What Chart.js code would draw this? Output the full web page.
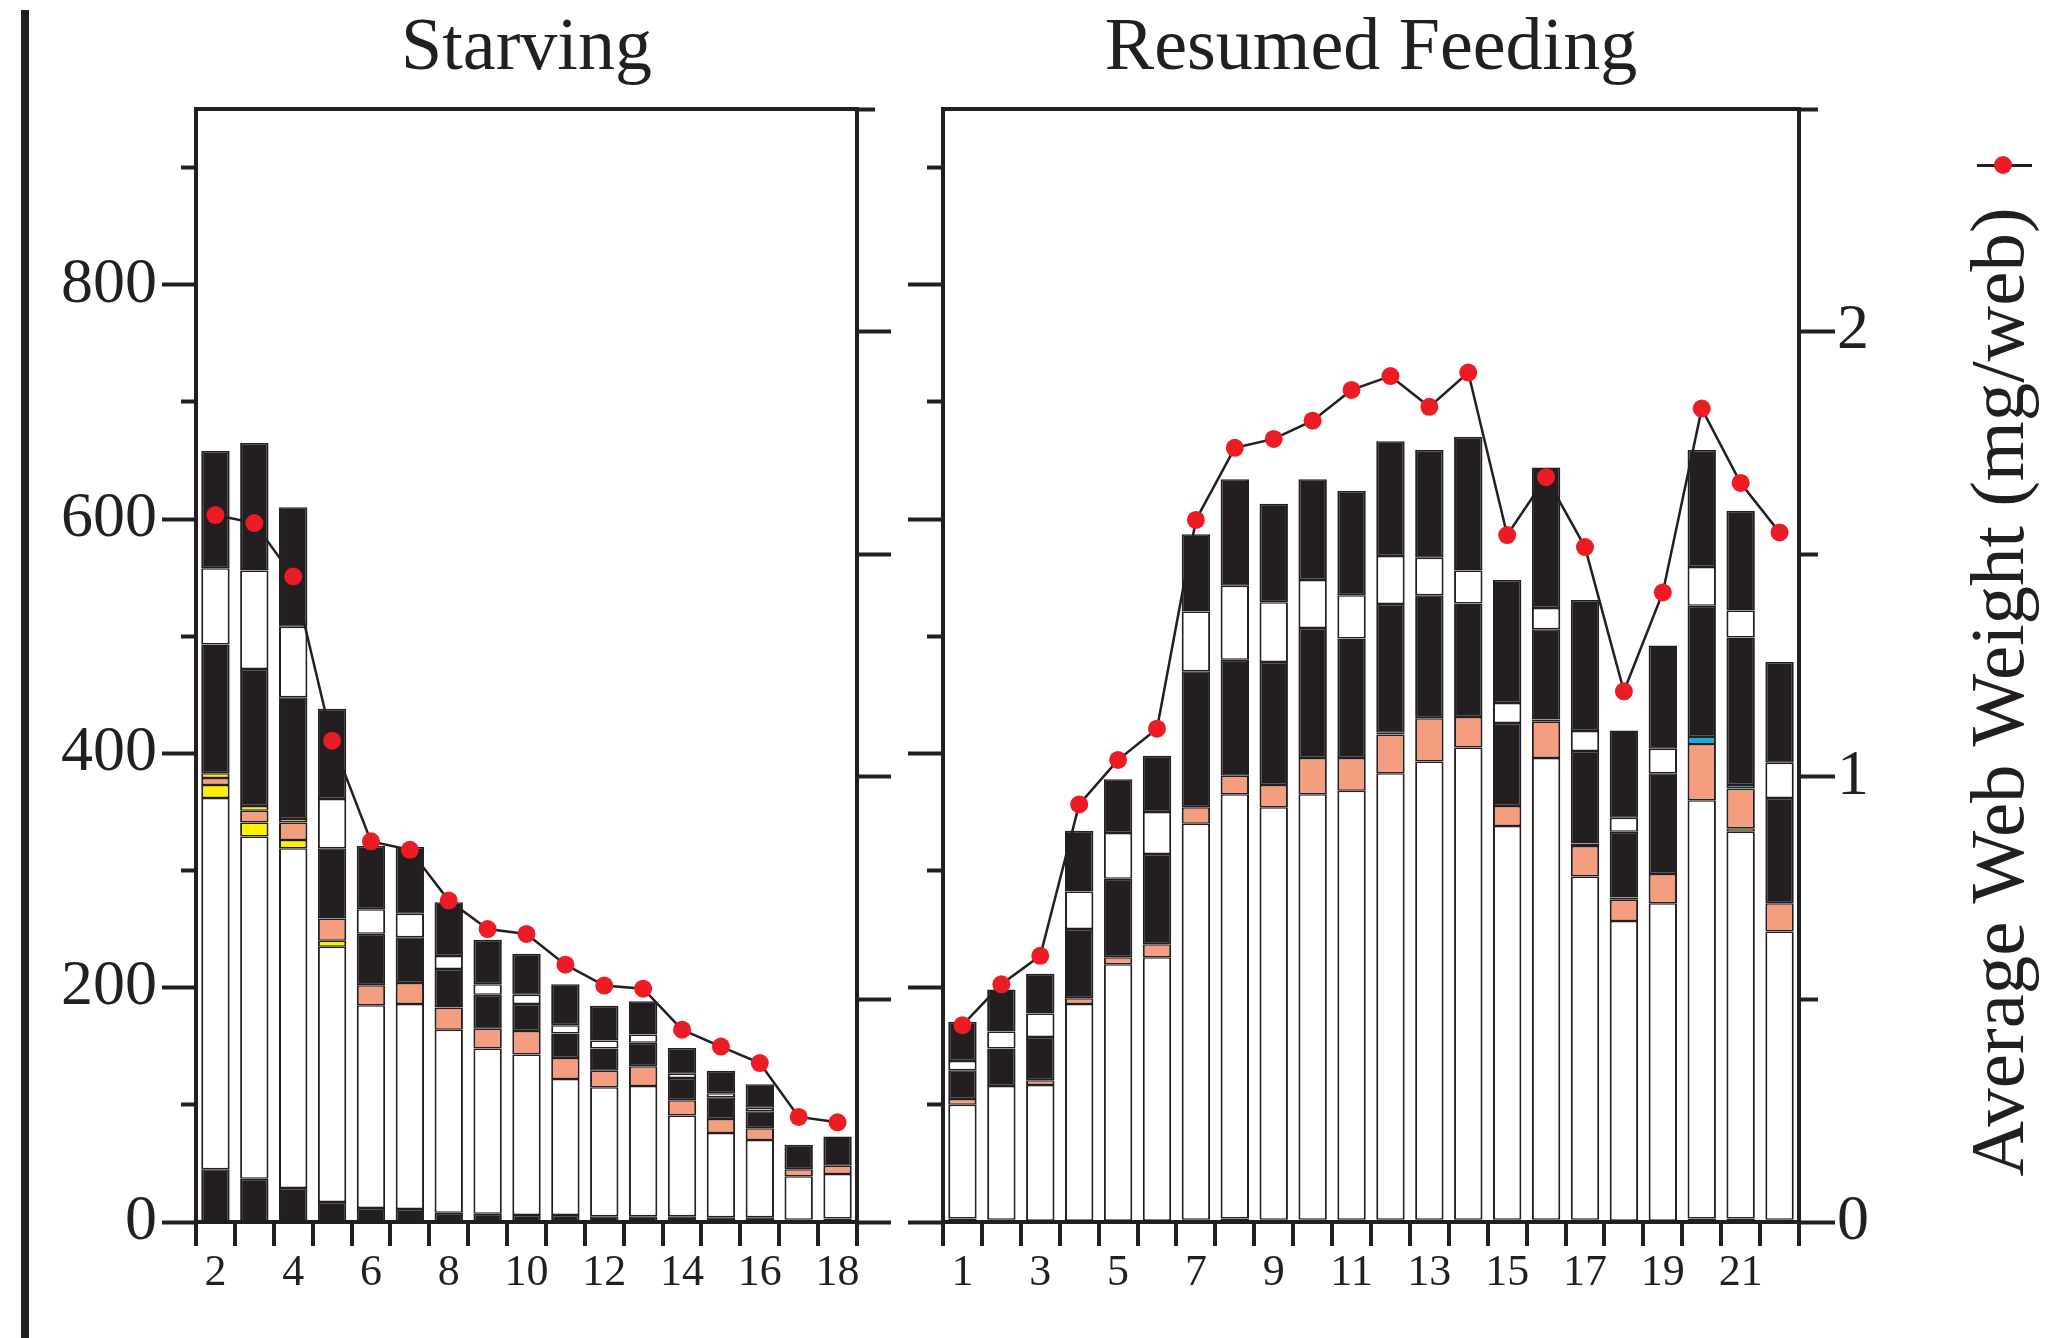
<!DOCTYPE html>
<html>
<head>
<meta charset="utf-8">
<title>Web weight and composition: starving vs resumed feeding</title>
<script src="https://cdn.jsdelivr.net/npm/chart.js@4.4.1/dist/chart.umd.min.js"></script>
<style>
  html, body { margin: 0; padding: 0; background: #fff; }
  body { width: 2049px; height: 1338px; position: relative; overflow: hidden; }
  canvas { position: absolute; top: 0; }
  #starving { left: 0; }
  #resumed { left: 880px; }
  .rule { position: absolute; left: 21px; top: 10px; width: 8px; height: 1328px; background: #231f20; }
  .key-line { position: absolute; left: 1977px; top: 164px; width: 55px; height: 2.5px; background: #231f20; }
  .key-dot { position: absolute; left: 1994px; top: 156px; width: 18px; height: 18px; border-radius: 50%; background: #ed1c24; }
  .key-text {
    position: absolute; left: 1997px; top: 692px;
    transform: translate(-50%, -50%) rotate(-90deg);
    font-family: 'Liberation Serif', 'Times New Roman', serif;
    font-size: 77px; line-height: 1;
    color: #231f20; white-space: nowrap;
  }
</style>
</head>
<body>
<div class="rule"></div>
<canvas id="starving" width="900" height="1338"></canvas>
<canvas id="resumed" width="1169" height="1338"></canvas>
<div class="key-line"></div>
<div class="key-dot"></div>
<div class="key-text">Average Web Weight (mg/web)</div>

<script>
// ---- Starving, days 2-18 ----
const starvingDays = ['2','3','4','5','6','7','8','9','10','11','12','13','14','15','16','17','18'];
const starvingBlackBase   = [45, 37, 29, 17, 12, 11, 8, 7, 6, 6, 5, 5, 5, 4, 4, 2, 3];
const starvingWhiteLower  = [317, 292, 290, 218, 173, 175, 156, 141, 137, 116, 110, 111, 86, 72, 66, 37, 38];
const starvingYellowLower = [11, 12, 7, 5, null, null, null, null, null, null, null, null, null, null, null, null, null];
const starvingSalmon      = [6, 10, 15, 19, 17, 18, 19, 17, 20, 18, 14, 17, 13, 12, 10, 6, 7];
const starvingYellowUpper = [4, 4, 3, null, null, null, null, null, null, null, null, null, null, null, null, null, null];
const starvingBlue        = [null, null, null, null, null, null, null, null, null, null, null, null, null, null, null, null, null];
const starvingBlackMid    = [110, 117, 104, 60, 44, 39, 33, 29, 23, 21, 19, 20, 19, 18.5, 14.5, 21, 25];
const starvingWhiteUpper  = [65, 84, 60, 42, 21, 20, 11, 9, 8, 7, 7, 7, 3.5, 3.5, 3, null, null];
const starvingBlackTop    = [100, 109, 102, 77, 54, 57, 46, 38, 35, 35, 29.5, 28.5, 22, 19, 20, null, null];
const starvingWebWeight   = [1.588, 1.570, 1.450, 1.081, 0.855, 0.836, 0.722, 0.658, 0.647, 0.578, 0.531, 0.524, 0.432, 0.394, 0.357, 0.236, 0.224];

// ---- Resumed feeding, days 1-22 ----
const resumedDays = ['1','2','3','4','5','6','7','8','9','10','11','12','13','14','15','16','17','18','19','20','21','22'];
const resumedBlackBase   = [3, 2, 1, 1, 1, 1, 2, 3, 2, 2, 2, 2, 2, 2, 2, 2, 2, 1, 1, 3, 3, 2];
const resumedWhiteLower  = [97, 114, 116, 185, 219, 225, 338, 362, 352, 363, 366, 381, 391, 403, 336, 394, 293, 256, 271, 357, 330, 246];
const resumedYellowLower = [null, null, null, null, null, null, null, null, null, null, null, null, null, null, null, null, null, null, null, null, 3, null];
const resumedSalmon      = [5, null, 4, 5, 6, 11, 14, 16, 19, 31, 28, 33, 37, 26, 17, 31, 26, 18, 25, 48, 34, 24];
const resumedYellowUpper = [null, null, null, null, null, null, null, null, null, null, null, null, null, null, null, null, null, null, null, null, null, null];
const resumedBlue        = [null, null, null, null, null, null, null, null, null, null, null, 1.5, null, null, null, 2, 2, 2, null, 6, 3, null];
const resumedBlackMid    = [24.5, 32, 37, 59, 67, 77, 116, 99, 105, 111, 102, 110, 105, 97, 71, 77, 79, 56, 86, 112, 126, 90];
const resumedWhiteUpper  = [8, 14.5, 20, 32, 39, 36, 51, 63, 51, 41, 37, 41, 32, 28, 17, 18, 17, 12, 21, 33, 23, 30];
const resumedBlackTop    = [33.5, 36, 34, 52, 46, 48, 66, 91, 84, 86, 89, 98, 92, 114, 105, 120, 112, 74.5, 88, 100, 85, 86];
const resumedWebWeight   = [0.442, 0.534, 0.598, 0.938, 1.038, 1.108, 1.577, 1.739, 1.759, 1.800, 1.869, 1.900, 1.831, 1.908, 1.543, 1.673, 1.516, 1.192, 1.414, 1.827, 1.660, 1.549];

// ---- shared styling ----
const INK = '#231f20';
const SERIF = "'Liberation Serif', 'Times New Roman', serif";
const layerColors = ['#231f20', '#ffffff', '#fff200', '#f59d7f', '#fff200', '#00aeef', '#231f20', '#ffffff', '#231f20'];

function stackedLayers(layers) {
  return layers.map((values, i) => ({
    type: 'bar',
    label: 'layer ' + (i + 1),
    data: values,
    backgroundColor: layerColors[i],
    borderColor: INK,
    borderWidth: { top: 1.5, bottom: 1.5, left: 2, right: 2 },
    borderSkipped: false,
    xAxisID: 'x',
    yAxisID: 'y',
    stack: 'web',
    order: 1,
    barPercentage: 0.73,
    categoryPercentage: 1
  }));
}

function weightLine(values) {
  return {
    type: 'line',
    label: 'Average Web Weight (mg/web)',
    data: values,
    xAxisID: 'x',
    yAxisID: 'w',
    borderColor: INK,
    borderWidth: 2.5,
    tension: 0,
    pointRadius: 9,
    pointHoverRadius: 9,
    pointBackgroundColor: '#ed1c24',
    pointBorderColor: '#ed1c24',
    pointBorderWidth: 0,
    order: 0,
    clip: false
  };
}

function panel(canvasId, cfg) {
  const isMinorCount = c => !(c.tick && c.tick.value % 200 === 0);
  // left-side tick strokes run from the outer end toward the axis,
  // so short ticks skip the outer part of the stroke
  const minorCountDash = [0, cfg.countTick - cfg.countMinor, cfg.countMinor, 200];
  return new Chart(document.getElementById(canvasId), {
    data: {
      labels: cfg.days,
      datasets: stackedLayers(cfg.layers).concat([weightLine(cfg.weight)])
    },
    options: {
      responsive: false,
      animation: false,
      events: [],
      layout: { padding: 0, autoPadding: false },
      plugins: {
        legend: { display: false },
        tooltip: { enabled: false },
        title: {
          display: true,
          text: cfg.title,
          position: 'top',
          fullSize: false,
          color: INK,
          font: { family: SERIF, size: 74, weight: 'normal', lineHeight: 1.2 },
          padding: { top: 5, bottom: 15.2 }
        }
      },
      scales: {
        x: {
          type: 'category',
          position: 'bottom',
          stacked: true,
          offset: true,
          grid: { display: true, offset: true, drawOnChartArea: false, drawTicks: true,
                  tickLength: 24, tickWidth: 4, tickColor: INK, lineWidth: 4, color: INK },
          border: { display: true, width: 4, color: INK },
          ticks: {
            autoSkip: false, maxRotation: 0, minRotation: 0, padding: 1, color: INK,
            font: { family: SERIF, size: 44 },
            callback: function (v, i) { return i % 2 === 0 ? this.getLabelForValue(v) : ''; }
          },
          afterFit: s => { s.height = 116; }
        },
        xTop: {
          type: 'category',
          position: 'top',
          labels: cfg.days,
          offset: true,
          grid: { display: false, drawTicks: false },
          ticks: { display: false },
          border: { display: true, width: 4, color: INK },
          afterFit: s => { s.height = 0; }
        },
        y: {
          type: 'linear',
          position: 'left',
          stacked: true,
          min: 0,
          max: 950,
          grid: {
            drawOnChartArea: false, drawTicks: true, tickLength: cfg.countTick, tickWidth: 4, tickColor: INK,
            tickBorderDash: c => isMinorCount(c) ? minorCountDash : []
          },
          border: { display: true, width: 4, color: INK },
          ticks: {
            display: cfg.countLabels,
            stepSize: 100,
            includeBounds: false,
            padding: 5,
            color: INK,
            font: { family: SERIF, size: 64 },
            callback: v => (v % 200 === 0 ? String(v) : '')
          },
          afterFit: s => { s.width = cfg.leftWidth; }
        },
        w: {
          type: 'linear',
          position: 'right',
          min: 0,
          max: 2.5,
          grid: {
            drawOnChartArea: false, drawTicks: true, tickLength: cfg.weightTick, tickWidth: 4, tickColor: INK,
            tickBorderDash: cfg.weightDash
          },
          border: { display: true, width: 4, color: INK },
          ticks: {
            display: cfg.weightLabels,
            stepSize: 0.5,
            padding: 2,
            color: INK,
            font: { family: SERIF, size: 64 },
            callback: v => (Number.isInteger(v) ? String(v) : '')
          },
          afterFit: s => { s.width = cfg.rightWidth; }
        }
      }
    }
  });
}

panel('starving', {
  title: 'Starving',
  days: starvingDays,
  layers: [starvingBlackBase, starvingWhiteLower, starvingYellowLower, starvingSalmon, starvingYellowUpper,
           starvingBlue, starvingBlackMid, starvingWhiteUpper, starvingBlackTop],
  weight: starvingWebWeight,
  countLabels: true, countTick: 34, countMinor: 15, leftWidth: 196,
  weightLabels: false, weightTick: 34, rightWidth: 43,
  weightDash: c => (c.tick && c.tick.value >= 2.5 ? [16, 100] : [])
});

panel('resumed', {
  title: 'Resumed Feeding',
  days: resumedDays,
  layers: [resumedBlackBase, resumedWhiteLower, resumedYellowLower, resumedSalmon, resumedYellowUpper,
           resumedBlue, resumedBlackMid, resumedWhiteUpper, resumedBlackTop],
  weight: resumedWebWeight,
  countLabels: false, countTick: 35, countMinor: 16, leftWidth: 63,
  weightLabels: true, weightTick: 36, rightWidth: 250,
  weightDash: c => (c.tick && Number.isInteger(c.tick.value) ? [] : [17, 100])
});
</script>
</body>
</html>
